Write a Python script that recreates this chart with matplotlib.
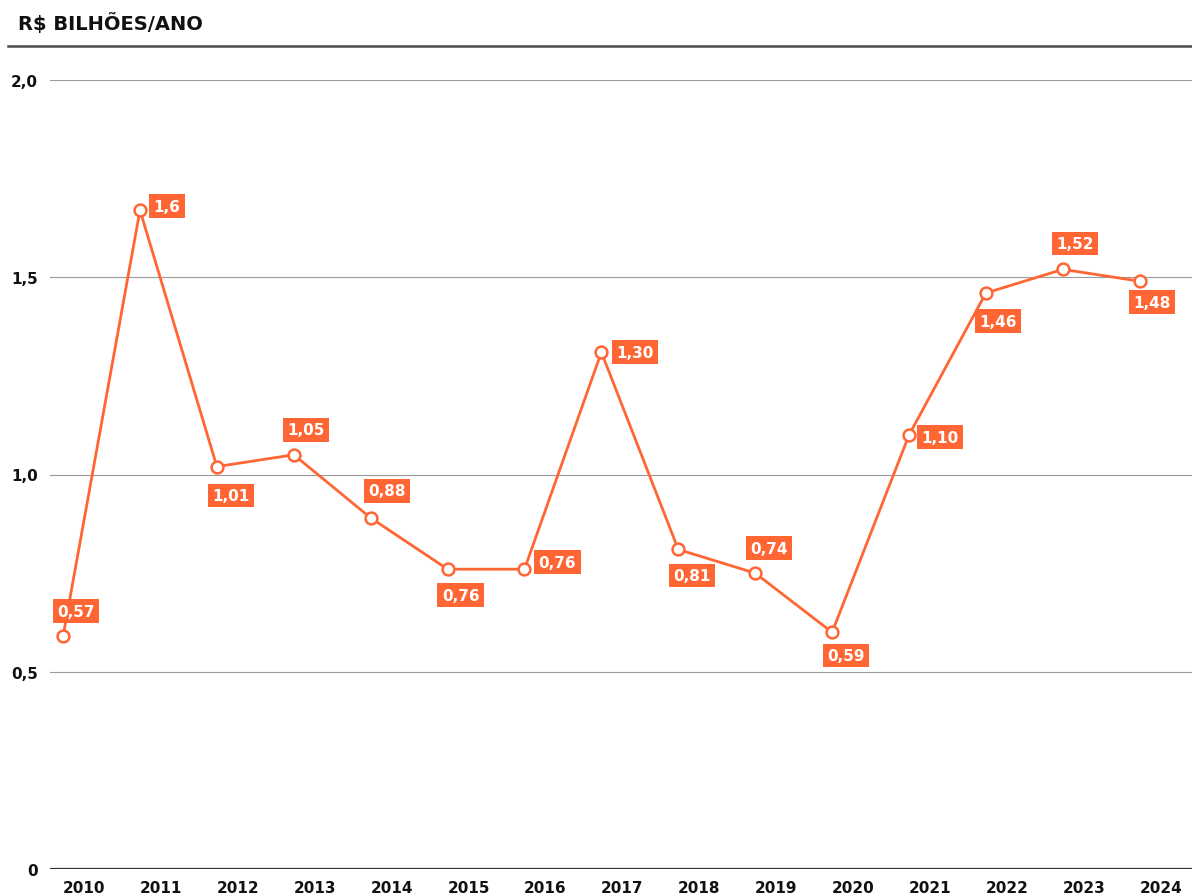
import matplotlib
matplotlib.use('Agg')
import matplotlib.pyplot as plt
from matplotlib.transforms import ScaledTranslation

# data
years = [2010, 2011, 2012, 2013, 2014, 2015, 2016, 2017,
         2018, 2019, 2020, 2021, 2022, 2023, 2024]
values = [0.59, 1.67, 1.02, 1.05, 0.89, 0.76, 0.76, 1.31,
          0.81, 0.75, 0.60, 1.10, 1.46, 1.52, 1.49]
labels = ['0,57', '1,6', '1,01', '1,05', '0,88', '0,76', '0,76', '1,30',
          '0,81', '0,74', '0,59', '1,10', '1,46', '1,52', '1,48']
yticks = [0, 0.5, 1.0, 1.5, 2.0]
ytick_labels = ['0', '0,5', '1,0', '1,5', '2,0']

# where each value box sits relative to its point (pixels, y up)
offsets = [(13, 25), (27, 4), (14, -29), (12, 25), (16, 27), (13, -26), (33, 7),
           (34, 0), (14, -26), (14, 25), (14, -23), (31, -2), (12, -28),
           (12, 26), (12, -21)]

orange = '#ff6633'
plt.rcParams['font.family'] = ['DejaVu Sans']

fig = plt.figure(figsize=(11.92, 8.95), dpi=100)
W, H = 1192, 895
ax = fig.add_axes([50 / W, 25 / H, 1142 / W, 789 / H])

# title + rule under it
fig.text(18 / W, 1 - 24 / H, 'R$ BILHÕES/ANO', fontsize=14, fontweight='bold',
         color='#111111', ha='left', va='center')
fig.add_artist(plt.Line2D([8 / W, 1], [1 - 47 / H, 1 - 47 / H],
                          color='#4a4a4a', lw=1.8, transform=fig.transFigure))

ax.plot(years, values, color=orange, lw=2, marker='o', markersize=8.5,
        markerfacecolor='white', markeredgecolor=orange, markeredgewidth=1.8,
        zorder=3, clip_on=False)

for x, y, t, (dx, dy) in zip(years, values, labels, offsets):
    ax.annotate(t, (x, y), xytext=(dx, dy), textcoords='offset pixels',
                ha='center', va='center', color='white', fontsize=11,
                fontweight='bold', zorder=4,
                bbox=dict(boxstyle='square,pad=0.28', fc=orange, ec='none'))

ax.set_xlim(2009.83, 2024.68)
ax.set_ylim(0, 2.0)
ax.set_yticks(yticks)
ax.set_yticklabels(ytick_labels)
ax.set_xticks(years)
ax.set_xticklabels([str(y) for y in years])
ax.tick_params(axis='y', length=0, pad=8.5, labelsize=11, labelcolor='#111111')
ax.tick_params(axis='x', length=0, pad=8, labelsize=11, labelcolor='#111111')
for lab in ax.get_yticklabels() + ax.get_xticklabels():
    lab.set_fontweight('bold')

# shift year labels right like in the original
shift = ScaledTranslation(0.21, 0, fig.dpi_scale_trans)
for lab in ax.get_xticklabels():
    lab.set_transform(lab.get_transform() + shift)

for s in ax.spines.values():
    s.set_visible(False)
ax.grid(axis='y', color='#9a9a9a', lw=0.8)
ax.grid(axis='x', visible=False)
ax.axhline(0, color='#333333', lw=1.6, zorder=2)

fig.savefig('out.png', dpi=100)
